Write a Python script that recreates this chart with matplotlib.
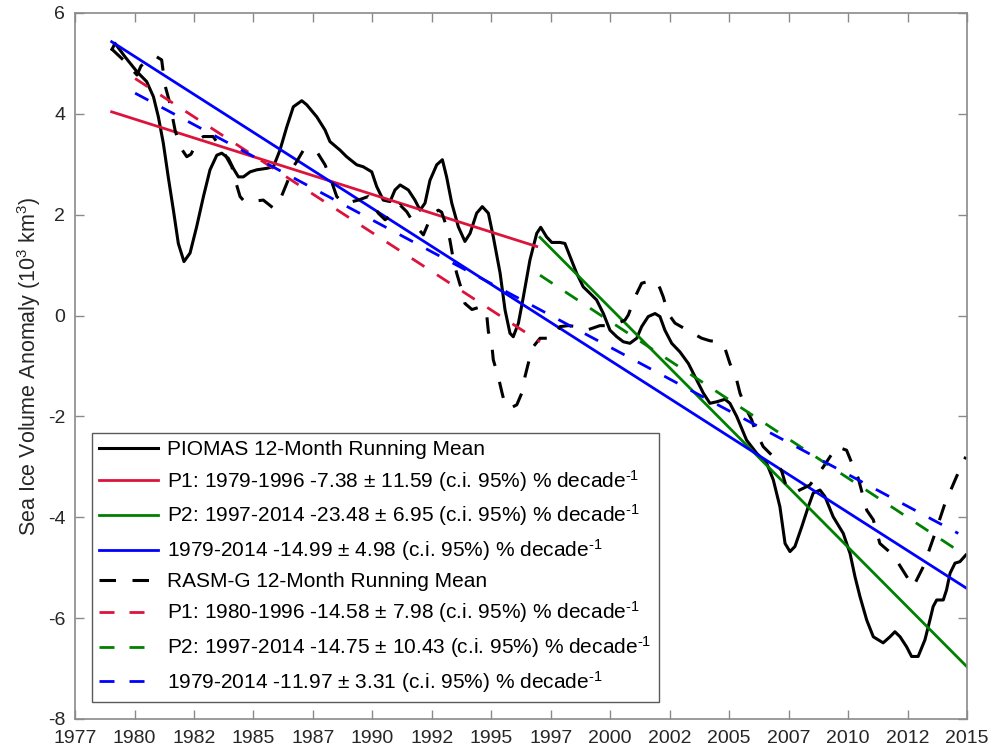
import numpy as np
import matplotlib.pyplot as plt

plt.rcParams['font.family'] = ['Liberation Sans', 'DejaVu Sans']
plt.rcParams['mathtext.fontset'] = 'custom'
plt.rcParams['mathtext.rm'] = 'Liberation Sans'
plt.rcParams['mathtext.default'] = 'regular'
plt.rcParams['axes.unicode_minus'] = False

# PIOMAS sea ice volume anomaly, 12-month running mean (10^3 km^3)
piomas_year = [1978.58, 1978.70, 1979.13, 1979.63, 1980.05, 1980.34, 1980.55, 1980.76,
               1980.97, 1981.19, 1981.40, 1981.64, 1981.90, 1982.18, 1982.47, 1982.75,
               1983.04, 1983.25, 1983.53, 1983.74, 1983.96, 1984.17, 1984.46, 1984.74,
               1985.17, 1985.45, 1985.73, 1986.02, 1986.30, 1986.66, 1986.87, 1987.30,
               1987.65, 1987.86, 1988.29, 1988.57, 1989.00, 1989.28, 1989.64, 1989.85,
               1990.13, 1990.42, 1990.63, 1990.85, 1991.20, 1991.48, 1991.70, 1991.91,
               1992.12, 1992.41, 1992.65, 1992.83, 1993.05, 1993.33, 1993.61, 1993.83,
               1994.11, 1994.35, 1994.61, 1994.82, 1995.11, 1995.32, 1995.53, 1995.67,
               1995.89, 1996.10, 1996.38, 1996.67, 1996.84, 1997.09, 1997.31, 1997.66,
               1997.87, 1998.09, 1998.37, 1998.65, 1998.94, 1999.22, 1999.51, 1999.79,
               2000.08, 2000.36, 2000.64, 2000.93, 2001.14, 2001.42, 2001.71, 2001.92,
               2002.13, 2002.42, 2002.77, 2003.13, 2003.49, 2003.77, 2004.05, 2004.34,
               2004.69, 2004.90, 2005.19, 2005.61, 2006.04, 2006.47, 2006.75, 2007.03,
               2007.25, 2007.46, 2007.67, 2007.96, 2008.24, 2008.45, 2008.74, 2008.95,
               2009.30, 2009.73, 2010.02, 2010.23, 2010.44, 2010.73, 2011.01, 2011.43,
               2011.72, 2011.93, 2012.15, 2012.43, 2012.64, 2012.92, 2013.21, 2013.42,
               2013.56, 2013.71, 2013.99, 2014.13, 2014.28, 2014.49, 2014.70, 2014.95]
piomas_vol = [5.28, 5.40, 5.13, 4.84, 4.64, 4.34, 3.94, 3.42,
              2.75, 2.09, 1.43, 1.07, 1.24, 1.76, 2.36, 2.89,
              3.18, 3.22, 3.12, 2.92, 2.75, 2.75, 2.85, 2.89,
              2.92, 2.95, 3.28, 3.74, 4.14, 4.26, 4.18, 3.94,
              3.68, 3.45, 3.28, 3.15, 2.99, 2.95, 2.85, 2.56,
              2.29, 2.26, 2.49, 2.59, 2.49, 2.29, 2.09, 2.23,
              2.68, 2.99, 3.09, 2.75, 2.23, 1.76, 1.47, 1.63,
              2.03, 2.16, 2.03, 1.56, 0.84, 0.11, -0.35, -0.42,
              -0.15, 0.37, 1.10, 1.63, 1.75, 1.56, 1.45, 1.45,
              1.43, 1.17, 0.84, 0.57, 0.44, 0.31, 0.04, -0.29,
              -0.42, -0.52, -0.55, -0.45, -0.22, -0.02, 0.04, -0.02,
              -0.29, -0.55, -0.72, -0.95, -1.28, -1.54, -1.74, -1.71,
              -1.66, -1.74, -2.00, -2.47, -2.73, -2.93, -3.26, -3.79,
              -4.52, -4.68, -4.58, -4.19, -3.79, -3.52, -3.46, -3.59,
              -3.99, -4.32, -4.72, -5.18, -5.57, -6.04, -6.37, -6.49,
              -6.37, -6.27, -6.37, -6.57, -6.76, -6.76, -6.43, -6.04,
              -5.77, -5.64, -5.64, -5.44, -5.11, -4.91, -4.88, -4.75]

# RASM-G sea ice volume anomaly, 12-month running mean (10^3 km^3)
rasm_year = [1978.53, 1979.10, 1979.64, 1979.81, 1980.20, 1980.48, 1980.69, 1980.83,
             1981.04, 1981.26, 1981.47, 1981.76, 1981.94, 1982.25, 1982.47, 1982.88,
             1983.26, 1983.68, 1983.82, 1984.03, 1984.24, 1984.46, 1985.02, 1985.45,
             1985.73, 1986.02, 1986.30, 1986.44, 1986.73, 1987.30, 1987.65, 1987.86,
             1988.15, 1988.43, 1988.72, 1989.07, 1989.49, 1989.92, 1990.21, 1990.50,
             1990.85, 1991.13, 1991.48, 1991.84, 1992.20, 1992.48, 1992.62, 1992.83,
             1992.97, 1993.12, 1993.26, 1993.47, 1993.61, 1993.91, 1994.33, 1994.54,
             1994.61, 1994.75, 1994.82, 1995.03, 1995.18, 1995.32, 1995.53, 1995.82,
             1996.03, 1996.17, 1996.31, 1996.52, 1996.81, 1997.15, 1997.45, 1997.66,
             1998.00, 1998.44, 1998.80, 1999.36, 1999.88, 2000.43, 2000.57, 2000.86,
             2001.14, 2001.36, 2001.78, 2001.92, 2002.06, 2002.27, 2002.56, 2003.20,
             2003.70, 2004.05, 2004.41, 2004.69, 2004.90, 2005.19, 2005.33, 2005.61,
             2005.83, 2005.97, 2006.32, 2006.75, 2007.11, 2007.32, 2007.74, 2008.31,
             2008.88, 2009.45, 2009.87, 2010.16, 2010.37, 2010.73, 2011.01, 2011.29,
             2011.86, 2012.71, 2013.14, 2013.64, 2014.06, 2014.56, 2014.95]
rasm_vol = [5.30, 5.05, 4.77, 4.95, 5.10, 5.13, 5.07, 4.57,
            4.21, 3.68, 3.35, 3.15, 3.20, 3.48, 3.55, 3.55,
            3.30, 2.95, 2.69, 2.36, 2.25, 2.26, 2.29, 2.13,
            2.29, 2.62, 2.95, 3.05, 3.28, 3.25, 2.99, 2.75,
            2.36, 2.23, 2.25, 2.29, 2.36, 2.03, 1.90, 2.00,
            2.19, 2.06, 1.80, 1.60, 2.00, 2.09, 2.05, 1.76,
            1.50, 1.10, 0.84, 0.51, 0.24, 0.12, 0.18, 0.01,
            -0.32, -0.55, -0.88, -1.21, -1.51, -1.77, -1.84, -1.77,
            -1.54, -1.21, -0.95, -0.62, -0.45, -0.45, -0.42, -0.22,
            -0.20, -0.22, -0.29, -0.20, -0.20, -0.09, 0.01, 0.37,
            0.64, 0.67, 0.67, 0.54, 0.37, 0.04, -0.15, -0.32,
            -0.45, -0.50, -0.52, -0.65, -0.95, -1.28, -1.54, -1.87,
            -2.07, -2.27, -2.60, -2.80, -3.09, -3.42, -3.49, -3.36,
            -3.00, -2.60, -2.67, -3.00, -3.23, -3.86, -4.05, -4.52,
            -4.75, -5.38, -4.98, -4.32, -3.73, -3.19, -2.80]

# fitted trends: start/end year and start/end anomaly
piomas_p1_years, piomas_p1_vals = [1978.56, 1996.67], [4.04, 1.37]
piomas_p2_years, piomas_p2_vals = [1996.81, 2014.99], [1.55, -6.96]
piomas_all_years, piomas_all_vals = [1978.56, 2014.99], [5.43, -5.41]
rasm_p1_years, rasm_p1_vals = [1979.56, 1996.81], [4.70, -0.52]
rasm_p2_years, rasm_p2_vals = [1996.81, 2014.91], [0.80, -4.75]
rasm_all_years, rasm_all_vals = [1979.56, 2014.63], [4.41, -4.32]

per_decade = '% decade$^{\\text{-}1}$'
labels = [
    'PIOMAS 12-Month Running Mean',
    'P1: 1979-1996 -7.38 \u00b1 11.59 (c.i. 95%) ' + per_decade,
    'P2: 1997-2014 -23.48 \u00b1 6.95 (c.i. 95%) ' + per_decade,
    '1979-2014 -14.99 \u00b1 4.98 (c.i. 95%) ' + per_decade,
    'RASM-G 12-Month Running Mean',
    'P1: 1980-1996 -14.58 \u00b1 7.98 (c.i. 95%) ' + per_decade,
    'P2: 1997-2014 -14.75 \u00b1 10.43 (c.i. 95%) ' + per_decade,
    '1979-2014 -11.97 \u00b1 3.31 (c.i. 95%) ' + per_decade,
]

red = '#DC143C'
green = '#008000'
blue = '#0000FF'
dash = (0, (5.4, 5.4))

fig = plt.figure(figsize=(9.94, 7.55), dpi=100)
ax = fig.add_axes([0.0755, 0.0477, 0.8973, 0.9351])

ax.plot(piomas_year, piomas_vol, color='k', lw=2.2, label=labels[0])
ax.plot(piomas_p1_years, piomas_p1_vals, color=red, lw=2, label=labels[1])
ax.plot(piomas_p2_years, piomas_p2_vals, color=green, lw=2, label=labels[2])
ax.plot(piomas_all_years, piomas_all_vals, color=blue, lw=2, label=labels[3])
ax.plot(rasm_year, rasm_vol, color='k', lw=2.2, ls=dash, label=labels[4])
ax.plot(rasm_p1_years, rasm_p1_vals, color=red, lw=2, ls=dash, label=labels[5])
ax.plot(rasm_p2_years, rasm_p2_vals, color=green, lw=2, ls=dash, label=labels[6])
ax.plot(rasm_all_years, rasm_all_vals, color=blue, lw=2, ls=dash, label=labels[7])

ax.set_xlim(1977, 2015)
ax.set_ylim(-8, 6)
xt = np.linspace(1977, 2015, 16)
ax.set_xticks(xt)
ax.set_xticklabels([str(int(round(t))) for t in xt])
ax.set_yticks(np.arange(-8, 7, 2))

axis_grey = '#8a8a8a'
for s in ax.spines.values():
    s.set_color(axis_grey)
    s.set_linewidth(1.2)
ax.tick_params(direction='in', length=6.5, width=1, color=axis_grey,
               labelcolor='#262626', labelsize=14, top=True, right=True)
ax.tick_params(axis='x', pad=8)
ax.tick_params(axis='y', pad=7)

ax.set_ylabel('Sea Ice Volume Anomaly (10$^3$ km$^3$)', fontsize=15.5, color='#262626')
ax.yaxis.set_label_coords(-0.036, 0.5)

leg = ax.legend(loc='lower left', bbox_to_anchor=(0.019, 0.024), borderaxespad=0,
                fontsize=15, handlelength=2.8, handletextpad=0.45, labelspacing=0.42,
                borderpad=0.35, frameon=True, fancybox=False, framealpha=1)
leg.get_frame().set_edgecolor('#5a5a5a')
leg.get_frame().set_linewidth(1)

fig.savefig('out.png', dpi=100)
